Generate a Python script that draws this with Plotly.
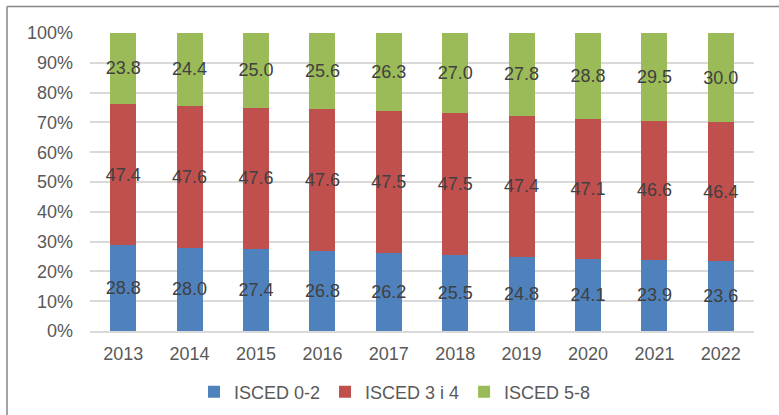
import plotly.graph_objects as go

years = ["2013", "2014", "2015", "2016", "2017", "2018", "2019", "2020", "2021", "2022"]
isced_0_2 = [28.8, 28.0, 27.4, 26.8, 26.2, 25.5, 24.8, 24.1, 23.9, 23.6]
isced_3_4 = [47.4, 47.6, 47.6, 47.6, 47.5, 47.5, 47.4, 47.1, 46.6, 46.4]
isced_5_8 = [23.8, 24.4, 25.0, 25.6, 26.3, 27.0, 27.8, 28.8, 29.5, 30.0]
series_names = ["ISCED 0-2", "ISCED 3 i 4", "ISCED 5-8"]
colors = ["#4F81BD", "#C0504D", "#9BBB59"]

FONT = "Liberation Sans, Arial"
fig = go.Figure()
for name, vals, col in zip(series_names, [isced_0_2, isced_3_4, isced_5_8], colors):
    fig.add_trace(go.Bar(
        x=years, y=vals, name=name, marker=dict(color=col, line=dict(width=0)),
        text=[f"{v:.1f}" for v in vals], textposition="inside",
        insidetextanchor="middle", textangle=0, constraintext="none",
        textfont=dict(family=FONT, size=18, color="#404040"),
        hoverinfo="skip",
    ))

W, H = 779, 415
l, r, t, b = 90, 25, 33, 84
pw, ph = W - l - r, H - t - b

def px_x(x):
    return (x - l) / pw

def px_y(y):
    return (H - b - y) / ph

fig.update_layout(
    width=W, height=H, barmode="stack", bargap=0.61,
    margin=dict(l=l, r=r, t=t, b=b, autoexpand=False),
    paper_bgcolor="white", plot_bgcolor="white",
    font=dict(family=FONT, size=18, color="#595959"),
    showlegend=True,
    legend=dict(orientation="h", x=px_x(395), xanchor="center", y=px_y(392), yanchor="middle",
                font=dict(size=18, color="#595959"), traceorder="normal",
                itemwidth=30, tracegroupgap=0),
    xaxis=dict(showgrid=False, showline=True, linecolor="#D9D9D9", linewidth=1.5,
               ticks="", ticklabelstandoff=6, tickfont=dict(size=18, color="#595959"), fixedrange=True),
    yaxis=dict(range=[0, 100], dtick=10, ticksuffix="%", showgrid=True, gridcolor="#D9D9D9",
               gridwidth=1.5, zeroline=False, ticks="", ticklabelstandoff=16,
               tickfont=dict(size=18, color="#595959"), fixedrange=True),
    shapes=[
        dict(type="line", xref="paper", yref="paper", x0=px_x(7), x1=px_x(7), y0=px_y(430), y1=px_y(6.5),
             line=dict(color="#868686", width=1.5)),
        dict(type="line", xref="paper", yref="paper", x0=px_x(7), x1=px_x(800), y0=px_y(6.5), y1=px_y(6.5),
             line=dict(color="#868686", width=1.5)),
    ],
)

fig.write_html("out.html", config={"displayModeBar": False},
               post_script="document.body.style.margin='0';document.body.style.overflow='hidden';")
